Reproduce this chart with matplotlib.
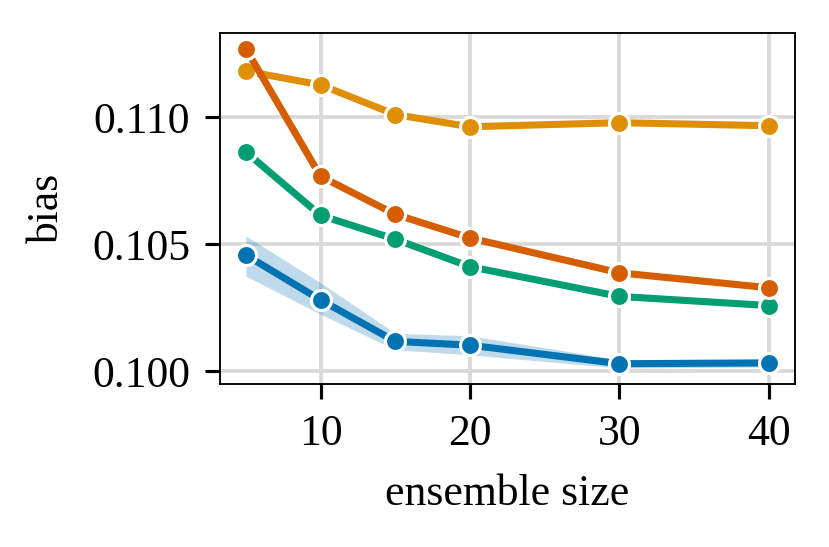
import matplotlib
matplotlib.use("Agg")
import matplotlib.pyplot as plt
import numpy as np

ensemble_size = [5, 10, 15, 20, 30, 40]

bias_blue = [0.10458, 0.10281, 0.10118, 0.10103, 0.10030, 0.10033]
band_blue_low = [0.10375, 0.10225, 0.10085, 0.10065, 0.10013, 0.10017]
band_blue_high = [0.10533, 0.10349, 0.10150, 0.10140, 0.10046, 0.10049]
bias_orange = [0.11182, 0.11128, 0.11011, 0.10963, 0.10979, 0.10967]
bias_green = [0.10864, 0.10614, 0.10520, 0.10412, 0.10295, 0.10259]
bias_red = [0.11270, 0.10768, 0.10618, 0.10525, 0.10388, 0.10329]

colors = {
    "blue": "#0173b2",
    "orange": "#de8f05",
    "green": "#029e73",
    "red": "#d55e00",
}

plt.rcParams["font.family"] = ["Liberation Serif", "DejaVu Serif"]
plt.rcParams["font.size"] = 10.5
plt.rcParams["mathtext.fontset"] = "stix"

fig = plt.figure(figsize=(829 / 300, 547 / 300), dpi=300)
ax = fig.add_axes([0.265, 0.298, 0.694, 0.642])

ax.fill_between(ensemble_size, band_blue_low, band_blue_high,
                color=colors["blue"], alpha=0.25, linewidth=0)
series = [
    (bias_blue, colors["blue"]),
    (bias_orange, colors["orange"]),
    (bias_green, colors["green"]),
    (bias_red, colors["red"]),
]
for values, color in series:
    ax.plot(ensemble_size, values, color=color, linewidth=1.7,
            marker="o", markersize=4.8, markeredgecolor="white",
            markeredgewidth=0.75)

ax.set_xticks([10, 20, 30, 40])
ax.set_yticks([0.100, 0.105, 0.110])
ax.set_yticklabels(["0.100", "0.105", "0.110"])
ax.grid(True, color="#d9d9d9", linewidth=0.9)
ax.set_axisbelow(True)
ax.tick_params(direction="out", length=3.6, width=0.75, pad=3.5)
for spine in ax.spines.values():
    spine.set_linewidth(0.45)
ax.set_xlabel("ensemble size", labelpad=5)
ax.set_ylabel("bias", labelpad=6)

fig.savefig("out.png", dpi=300)
